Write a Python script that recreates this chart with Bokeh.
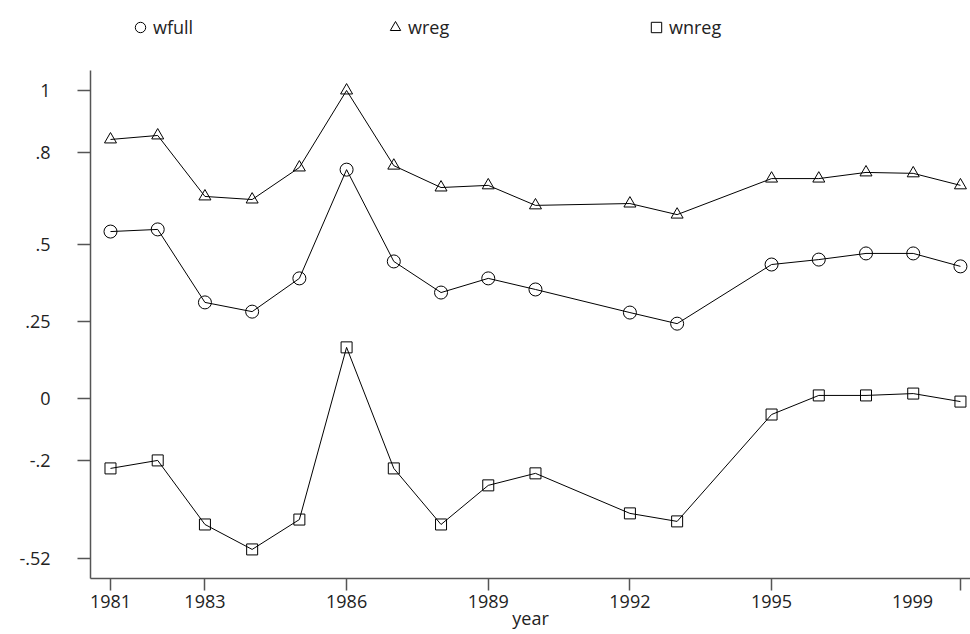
from bokeh.plotting import figure
from bokeh.models import (Range1d, FixedTicker, Legend, LegendItem)
from bokeh.embed import file_html
from bokeh.resources import INLINE

years = [1981, 1982, 1983, 1984, 1985, 1986, 1987, 1988, 1989, 1990,
         1992, 1993, 1995, 1996, 1997, 1998, 1999]
wfull = [0.542, 0.549, 0.312, 0.282, 0.390, 0.743, 0.445, 0.344, 0.390, 0.354,
         0.279, 0.243, 0.435, 0.451, 0.471, 0.471, 0.429]
wreg = [0.841, 0.854, 0.656, 0.646, 0.750, 1.0, 0.756, 0.685, 0.692, 0.627,
        0.633, 0.597, 0.714, 0.714, 0.734, 0.731, 0.692]
wnreg = [-0.227, -0.201, -0.409, -0.490, -0.393, 0.166, -0.227, -0.409, -0.282, -0.243,
         -0.373, -0.399, -0.052, 0.010, 0.010, 0.016, -0.010]

x_ticks = [1981, 1983, 1986, 1989, 1992, 1995, 1999]
x_tick_labels = ["1981", "1983", "1986", "1989", "1992", "1995",
                 "1999" + "\u00a0" * 8]
y_ticks = [-0.52, -0.2, 0, 0.25, 0.5, 0.8, 1]
y_tick_labels = ["-.52", "-.2", "0", ".25", ".5", ".8", "1"]

FONT = "Open Sans"
FS = "18px"
AXC = "#555555"
TXT = "#222222"

p = figure(width=970, height=634, output_backend="svg", toolbar_location=None,
           x_range=Range1d(1980.5765, 1999.213), y_range=Range1d(-0.5844, 1.2922),
           min_border_left=90, min_border_right=0, min_border_top=0, min_border_bottom=56)
p.outline_line_color = None
p.xgrid.visible = False
p.ygrid.visible = False
p.background_fill_color = "white"
p.border_fill_color = "white"

# axes
p.xaxis.ticker = FixedTicker(ticks=x_ticks)
p.xaxis.major_label_overrides = {t: l for t, l in zip(x_ticks, x_tick_labels)}
p.yaxis.ticker = FixedTicker(ticks=y_ticks)
p.yaxis.major_label_overrides = {t: l for t, l in zip(y_ticks, y_tick_labels)}
p.yaxis.bounds = (-0.5844, 1.0649)
for ax in (p.xaxis[0], p.yaxis[0]):
    ax.axis_line_color = AXC
    ax.axis_line_width = 1.5
    ax.major_tick_line_color = AXC
    ax.major_tick_line_width = 1.5
    ax.major_tick_in = 0
    ax.minor_tick_line_color = None
    ax.major_label_text_font = FONT
    ax.major_label_text_font_size = FS
    ax.major_label_text_color = TXT
p.xaxis.major_tick_out = 12
p.yaxis.major_tick_out = 13
p.xaxis.major_label_standoff = -2
p.yaxis.major_label_standoff = 27
p.xaxis.axis_label = "year"
p.xaxis.axis_label_text_font = FONT
p.xaxis.axis_label_text_font_size = FS
p.xaxis.axis_label_text_font_style = "normal"
p.xaxis.axis_label_text_color = TXT
p.xaxis.axis_label_standoff = -10

# series
series = [(wfull, "circle", 13, "wfull"),
          (wreg, "triangle", 12, "wreg"),
          (wnreg, "square", 11, "wnreg")]
marker_renderers = []
for vals, mk, sz, name in series:
    p.line(years, vals, line_color="black", line_width=1)
    r = p.scatter(years, vals, marker=mk, size=sz, fill_color=None,
                  line_color="black", line_width=1)
    marker_renderers.append((r, name))

# legend: three fixed columns above the data
legend_x = [37, 292, 553]
for (r, name), lx in zip(marker_renderers, legend_x):
    lg = Legend(items=[LegendItem(label=name, renderers=[r])],
                location=(lx, 538), orientation="horizontal",
                padding=0, margin=0, spacing=0,
                glyph_width=26, glyph_height=26, label_standoff=-1,
                border_line_color=None, background_fill_alpha=0,
                label_text_font=FONT, label_text_font_size=FS,
                label_text_color=TXT)
    p.add_layout(lg, "center")

open("out.html", "w").write(file_html(p, INLINE))
